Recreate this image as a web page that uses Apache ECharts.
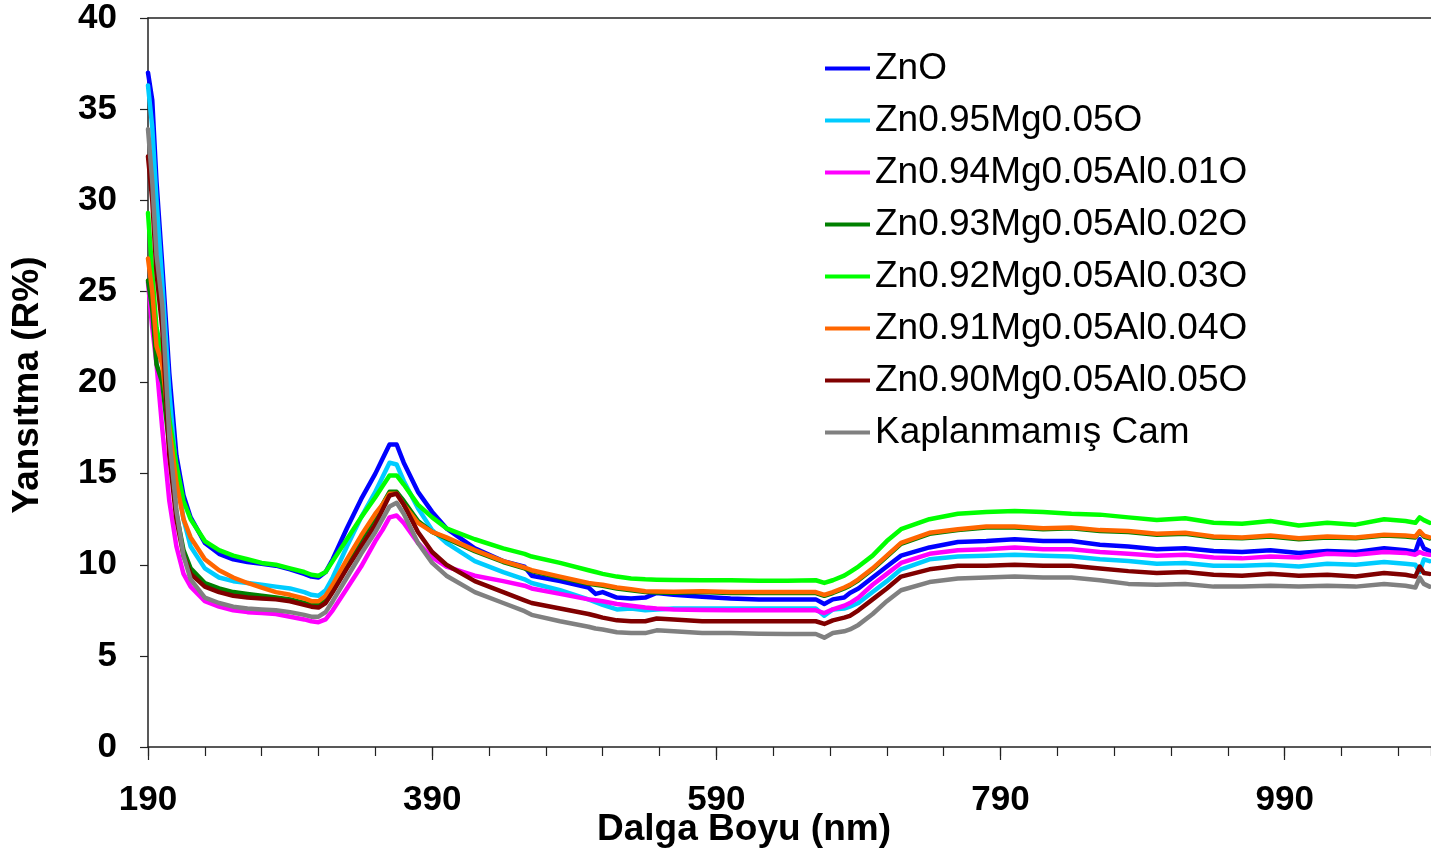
<!DOCTYPE html>
<html>
<head>
<meta charset="utf-8">
<script src="https://cdn.jsdelivr.net/npm/echarts@6/dist/echarts.min.js"></script>
<style>
html,body{margin:0;padding:0;background:#fff;}
#chart{width:1431px;height:861px;}
</style>
</head>
<body>
<div id="chart"></div>
<script>
// Wavelength (nm)
const WAVELENGTH = [190,193,196,200,205,210,215,220,230,240,250,260,270,280,290,300,305,310,315,320,330,340,350,355,360,365,370,380,390,400,420,440,455,460,480,500,505,510,520,530,540,548,560,580,600,620,640,660,666,672,680,684,690,700,710,720,740,760,780,800,820,840,860,880,900,920,940,960,980,1000,1020,1040,1060,1075,1082,1085,1088,1092];

const X_START = 190;          // first tick label
const X_END = 1093;           // right edge of the visible plot
const X_MAJOR_STEP = 200;
const X_MINOR_STEP = 40;
const Y_TICK_STEP = 5;

const SERIES_NAMES = ["ZnO","Zn0.95Mg0.05O","Zn0.94Mg0.05Al0.01O","Zn0.93Mg0.05Al0.02O","Zn0.92Mg0.05Al0.03O","Zn0.91Mg0.05Al0.04O","Zn0.90Mg0.05Al0.05O","Kaplanmamış Cam"];

const ZNO = [37.0,35.5,31.0,26.5,20.5,16.0,13.8,12.6,
11.2,10.6,10.3,10.15,10.05,9.95,9.75,9.5,
9.35,9.3,9.6,10.3,12.0,13.6,15.0,15.8,
16.6,16.6,15.6,14.0,12.9,12.0,10.9,10.2,
9.9,9.4,9.1,8.75,8.4,8.5,8.2,8.15,
8.2,8.45,8.35,8.25,8.15,8.1,8.1,8.1,
7.85,8.1,8.2,8.45,8.7,9.3,9.9,10.5,
10.95,11.25,11.3,11.4,11.3,11.3,11.1,11.0,
10.85,10.9,10.75,10.7,10.8,10.65,10.75,10.7,
10.9,10.8,10.7,11.4,10.9,10.75];

const ZN95MG05 = [36.3,34.0,30.0,25.5,19.5,15.0,12.5,11.0,
9.8,9.3,9.1,9.0,8.9,8.8,8.7,8.5,
8.35,8.3,8.6,9.3,11.0,12.6,14.0,14.8,
15.6,15.5,14.6,13.1,11.9,11.2,10.2,9.6,
9.2,9.0,8.6,8.1,7.95,7.8,7.55,7.6,
7.5,7.55,7.6,7.6,7.6,7.6,7.6,7.6,
7.2,7.55,7.6,7.7,7.9,8.5,9.1,9.75,
10.3,10.45,10.5,10.55,10.5,10.45,10.3,10.2,
10.05,10.1,9.95,9.95,10.0,9.9,10.05,10.0,
10.15,10.05,10.0,9.6,10.3,10.2];

const AL001 = [25.5,23.0,21.0,17.5,13.5,11.0,9.5,8.8,
8.0,7.7,7.5,7.4,7.35,7.3,7.15,7.0,
6.9,6.85,7.0,7.5,8.7,9.9,11.3,11.9,
12.6,12.7,12.3,11.2,10.4,9.9,9.4,9.1,
8.85,8.7,8.4,8.1,8.05,8.0,7.85,7.75,
7.65,7.6,7.55,7.52,7.5,7.5,7.5,7.5,
7.35,7.55,7.75,7.9,8.2,8.9,9.5,10.1,
10.6,10.8,10.85,10.95,10.85,10.85,10.7,10.6,
10.5,10.55,10.4,10.35,10.45,10.4,10.6,10.55,
10.7,10.65,10.55,10.7,10.6,10.55];

const AL002 = [25.6,24.0,21.0,20.0,16.5,12.8,10.8,9.8,
9.0,8.7,8.5,8.4,8.3,8.2,8.1,7.9,
7.8,7.8,8.1,8.7,10.0,11.4,12.6,13.3,
14.0,14.0,13.5,12.4,11.8,11.45,10.75,10.15,
9.8,9.65,9.3,8.95,8.9,8.85,8.7,8.6,
8.5,8.48,8.47,8.5,8.45,8.45,8.45,8.45,
8.3,8.45,8.7,8.85,9.15,9.75,10.45,11.15,
11.7,11.9,12.05,12.05,11.95,12.0,11.85,11.8,
11.65,11.7,11.5,11.45,11.55,11.4,11.5,11.45,
11.6,11.55,11.5,11.8,11.55,11.45];

const AL003 = [29.3,26.0,23.0,21.5,18.0,15.5,13.5,12.5,
11.3,10.8,10.5,10.3,10.1,10.0,9.8,9.6,
9.45,9.4,9.6,10.2,11.4,12.6,13.7,14.3,
14.9,14.9,14.4,13.3,12.6,12.0,11.4,10.9,
10.6,10.45,10.1,9.7,9.6,9.5,9.35,9.25,
9.2,9.18,9.16,9.15,9.15,9.12,9.12,9.15,
9.0,9.15,9.4,9.6,9.9,10.5,11.3,11.95,
12.5,12.8,12.9,12.95,12.9,12.8,12.75,12.6,
12.45,12.55,12.3,12.25,12.4,12.15,12.3,12.2,
12.5,12.4,12.3,12.6,12.45,12.3];

const AL004 = [26.8,25.0,22.0,21.0,17.5,14.5,12.5,11.5,
10.3,9.7,9.3,9.0,8.75,8.5,8.35,8.15,
8.0,8.0,8.3,8.9,10.3,11.6,12.8,13.3,
13.9,13.9,13.3,12.3,11.8,11.5,10.8,10.2,
9.85,9.7,9.35,9.0,8.95,8.9,8.75,8.65,
8.55,8.53,8.52,8.55,8.5,8.5,8.5,8.5,
8.35,8.5,8.75,8.9,9.2,9.8,10.5,11.2,
11.75,11.95,12.1,12.1,12.0,12.05,11.9,11.85,
11.7,11.75,11.55,11.5,11.6,11.45,11.55,11.5,
11.65,11.6,11.55,11.85,11.6,11.5];

const AL005 = [32.4,30.0,26.0,23.0,16.0,12.5,10.5,9.5,
8.8,8.5,8.3,8.2,8.15,8.1,8.0,7.8,
7.7,7.65,7.9,8.5,9.8,11.0,12.2,13.0,
13.8,13.9,13.3,11.8,10.7,10.0,9.1,8.5,
8.05,7.9,7.6,7.3,7.2,7.1,6.95,6.9,
6.9,7.05,7.0,6.9,6.9,6.9,6.9,6.9,
6.75,6.95,7.1,7.2,7.5,8.1,8.7,9.35,
9.75,9.95,9.95,10.0,9.95,9.95,9.8,9.65,
9.55,9.6,9.45,9.4,9.5,9.4,9.45,9.35,
9.55,9.45,9.35,9.9,9.55,9.5];

const GLASS = [33.9,31.0,27.0,24.3,17.0,13.0,10.5,9.2,
8.2,7.9,7.7,7.6,7.55,7.5,7.4,7.25,
7.15,7.15,7.4,8.0,9.3,10.6,11.8,12.5,
13.2,13.4,12.8,11.2,10.1,9.4,8.5,7.9,
7.45,7.25,6.9,6.6,6.5,6.45,6.3,6.25,
6.25,6.4,6.35,6.25,6.25,6.22,6.2,6.2,
6.0,6.25,6.35,6.45,6.7,7.3,8.0,8.6,
9.05,9.25,9.3,9.35,9.3,9.3,9.15,8.95,
8.9,8.95,8.8,8.8,8.85,8.8,8.85,8.8,
8.95,8.85,8.75,9.3,8.95,8.8];

const SERIES_VALUES = [ZNO, ZN95MG05, AL001, AL002, AL003, AL004, AL005, GLASS];
const COLORS = ["#0000FF","#00CCFF","#FF00FF","#008000","#00FF00","#FF6600","#800000","#808080"];

const FONT = "'Liberation Sans', Arial, Helvetica, sans-serif";

const chart = echarts.init(document.getElementById('chart'), null, {renderer:'canvas'});

const series = SERIES_VALUES.map((vals, i) => ({
  name: SERIES_NAMES[i],
  type: 'line',
  xAxisIndex: 0,
  showSymbol: false,
  symbol: 'none',
  smooth: false,
  animation: false,
  color: COLORS[i],
  lineStyle: {width: 4.5, color: COLORS[i], join: 'round', cap: 'round'},
  data: WAVELENGTH.map((w, k) => [w - X_START, vals[k]])
}));

const AXIS_COLOR = '#222';
const span = X_END - X_START;

const option = {
  backgroundColor: '#fff',
  animation: false,
  grid: {left: 148, top: 18, right: 0, bottom: 114, containLabel: false},
  legend: {
    orient: 'vertical',
    left: 820,
    top: 45,
    icon: 'rect',
    itemWidth: 45,
    itemHeight: 4,
    itemGap: 15,
    textStyle: {fontFamily: FONT, fontSize: 37, color: '#000', lineHeight: 37},
    data: SERIES_NAMES
  },
  xAxis: [{
    // main axis: major ticks and labels
    type: 'value',
    min: 0,
    max: span,
    interval: X_MAJOR_STEP,
    axisLine: {show: true, onZero: false, lineStyle: {color: AXIS_COLOR, width: 1.5}},
    axisTick: {show: true, inside: false, length: 13, lineStyle: {color: AXIS_COLOR, width: 1.2}},
    axisLabel: {
      margin: 36, fontFamily: FONT, fontSize: 35, fontWeight: 'bold', color: '#000',
      showMaxLabel: false,
      formatter: v => String(v + X_START)
    },
    splitLine: {show: false}
  }, {
    // minor ticks
    type: 'value',
    position: 'bottom',
    min: 0,
    max: span,
    interval: X_MINOR_STEP,
    axisLine: {show: false, onZero: false},
    axisTick: {show: true, inside: false, length: 9, lineStyle: {color: AXIS_COLOR, width: 1.2}},
    axisLabel: {show: false},
    splitLine: {show: false}
  }, {
    // top frame line
    type: 'value',
    position: 'top',
    min: 0,
    max: span,
    axisLine: {show: true, onZero: false, lineStyle: {color: AXIS_COLOR, width: 1.5}},
    axisTick: {show: false},
    axisLabel: {show: false},
    splitLine: {show: false}
  }],
  yAxis: {
    type: 'value',
    min: 0,
    max: 40,
    interval: Y_TICK_STEP,
    axisLine: {show: true, onZero: false, lineStyle: {color: AXIS_COLOR, width: 1.5}},
    axisTick: {show: true, inside: false, length: 8, lineStyle: {color: AXIS_COLOR, width: 1.2}},
    axisLabel: {margin: 31, fontFamily: FONT, fontSize: 35, fontWeight: 'bold', color: '#000'},
    splitLine: {show: false}
  },
  graphic: [
    {type: 'text', x: 744, y: 830, style: {text: 'Dalga Boyu (nm)', font: 'bold 37px ' + FONT, fill: '#000', textAlign: 'center', textVerticalAlign: 'middle'}},
    {type: 'text', x: 28, y: 385, rotation: Math.PI / 2, style: {text: 'Yansıtma (R%)', font: 'bold 37px ' + FONT, fill: '#000', textAlign: 'center', textVerticalAlign: 'middle'}}
  ],
  series: series
};

chart.setOption(option);
</script>
</body>
</html>
